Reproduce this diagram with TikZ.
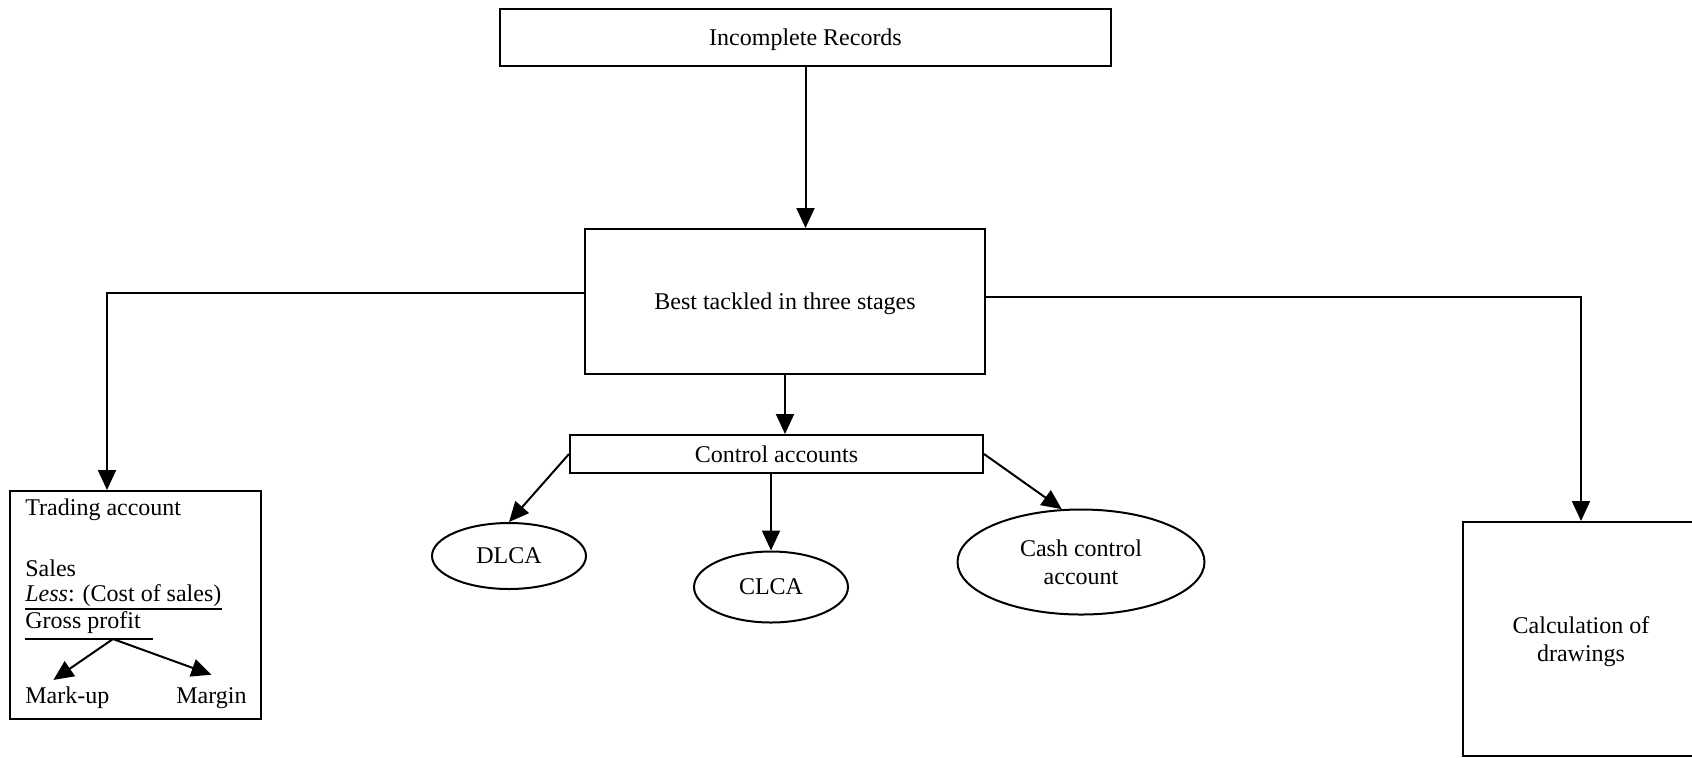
\documentclass[tikz,border=0pt]{standalone}
\usepackage{fontspec}
\setmainfont{Liberation Serif}
\usetikzlibrary{arrows.meta,shapes.geometric,positioning,calc}

\begin{document}
\begin{tikzpicture}[
    x=0.5pt,y=-0.5pt,
    every node/.style={font=\fontsize{12pt}{14pt}\selectfont},
    box/.style={rectangle,draw,line width=1pt,align=center,inner sep=0pt,text depth=0pt},
    oval/.style={ellipse,draw,line width=1pt,align=center,inner sep=0pt},
    txt/.style={inner sep=0pt,anchor=base west},
    arrow/.style={line width=1pt,-{Triangle[length=10pt,width=9pt]}},
    rule/.style={line width=1pt}
]
    \useasboundingbox (0,0) rectangle (1692,757);

    \node[box,minimum width=305.5pt,minimum height=28.5pt] (inc) at (805.5,37.5) {Incomplete Records};
    \node[box,minimum width=200pt,minimum height=72.5pt] (best) at (785,301.5) {Best tackled in three stages};
    \node[box,minimum width=206.5pt,minimum height=19pt] (ctrl) at (776.5,454) {Control accounts};

    \node[oval,minimum width=77pt,minimum height=33pt] (dlca) at (509,556) {DLCA};
    \node[oval,minimum width=77pt,minimum height=35.5pt] (clca) at (771,587) {CLCA};
    \node[oval,minimum width=123.5pt,minimum height=52.5pt] (cash) at (1081,562) {Cash control\\account};

    \node[box,minimum width=125.5pt,minimum height=114pt] (trading) at (135.5,605) {};
    \node[box,minimum width=118pt,minimum height=117pt] (drawings) at (1581,639) {Calculation of\\drawings};

    % trading account contents
    \node[txt] (title) at (25,515) {Trading account};
    \node[txt] (sales) at (25,576) {Sales};
    \node[txt] (less) at (25,601) {\textit{Less}: (Cost of sales)};
    \node[txt] (gross) at (25,628) {Gross profit};
    \node[txt] (markup) at (25,703) {Mark-up};
    \node[txt,anchor=base east] (margin) at (247,703) {Margin};
    \coordinate (split) at (113,639);

    \draw[rule] ([yshift=-4pt]less.base west) -- ([yshift=-4pt]less.base east);
    \draw[rule] ([yshift=-5.5pt]gross.base west) -- ([xshift=6pt,yshift=-5.5pt]gross.base east);
    \draw[arrow] (split) -- ([xshift=-7pt,yshift=3pt]markup.north);
    \draw[arrow] (split) -- ([yshift=6pt]margin.north);

    \draw[arrow] (inc.south) -- (inc.south |- best.north);
    \draw[arrow] ([yshift=4.25pt]best.west) -| ([xshift=-14.25pt]trading.north);
    \draw[arrow] ([yshift=2.25pt]best.east) -| (drawings.north);
    \draw[arrow] (best.south) -- (best.south |- ctrl.north);
    \draw[arrow] (ctrl.west) -- (dlca.north);
    \draw[arrow] (clca.north |- ctrl.south) -- (clca.north);
    \draw[arrow] (ctrl.east) -- (cash.110);
\end{tikzpicture}
\end{document}
